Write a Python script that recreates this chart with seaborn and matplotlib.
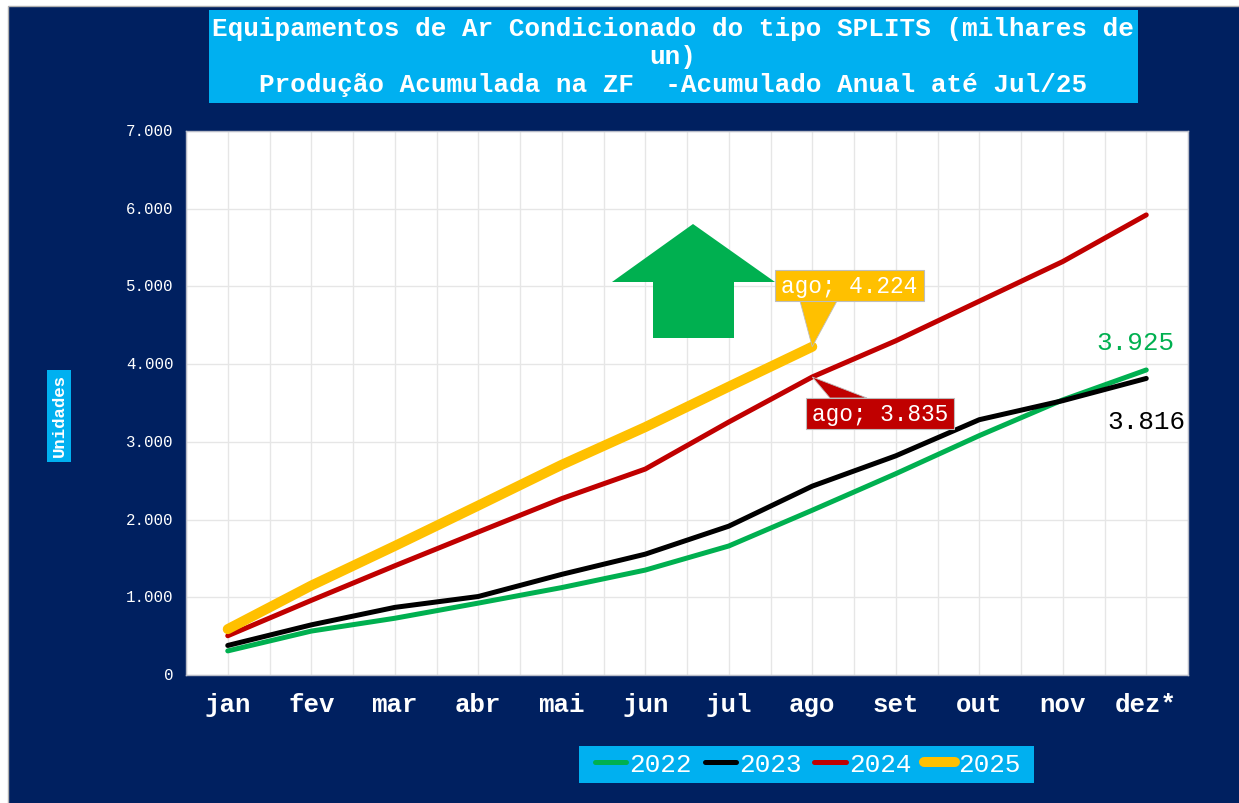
import numpy as np
import pandas as pd
import matplotlib
matplotlib.use("Agg")
import matplotlib.pyplot as plt
from matplotlib.patches import Polygon, Rectangle
from matplotlib.transforms import IdentityTransform, ScaledTranslation
import seaborn as sns

# === Data ===
MONTHS = ["jan", "fev", "mar", "abr", "mai", "jun", "jul", "ago", "set", "out", "nov", "dez*"]
V_2022 = [310, 565, 730, 925, 1125, 1350, 1660, 2120, 2590, 3080, 3540, 3925]
V_2023 = [380, 645, 870, 1010, 1295, 1555, 1915, 2430, 2820, 3285, 3530, 3816]
V_2024 = [505, 960, 1405, 1840, 2270, 2650, 3255, 3835, 4300, 4810, 5320, 5920]
V_2025 = [590, 1150, 1660, 2180, 2705, 3190, 3710, 4224, None, None, None, None]
YEARS = ["2022", "2023", "2024", "2025"]
Y_TICKS = [0, 1000, 2000, 3000, 4000, 5000, 6000, 7000]
Y_LABELS = ["0", "1.000", "2.000", "3.000", "4.000", "5.000", "6.000", "7.000"]

TITLE = ("Equipamentos de Ar Condicionado do tipo SPLITS (milhares de\nun)\n"
         "Produção Acumulada na ZF  -Acumulado Anual até Jul/25")

# === Style ===
W, H = 1239, 804
NAVY = "#002060"
CYAN = "#00B0F0"
GREEN = "#00B050"
RED = "#C00000"
GOLD = "#FFC000"
COLORS = {"2022": GREEN, "2023": "#000000", "2024": RED, "2025": GOLD}
WIDTHS = {"2022": 3.6, "2023": 3.6, "2024": 3.6, "2025": 7.2}

sns.set_theme(style="whitegrid")
plt.rcParams["font.family"] = ["Liberation Mono", "DejaVu Sans"]

df = pd.DataFrame({"mes": MONTHS, "2022": V_2022, "2023": V_2023, "2024": V_2024, "2025": V_2025})
long_df = df.melt(id_vars="mes", var_name="ano", value_name="valor").dropna()

fig = plt.figure(figsize=(W / 100, H / 100), dpi=100, facecolor="white")


def px_rect(x0, y0, x1, y1, **kw):
    # rectangle given in picture pixels, y going down
    fig.add_artist(Rectangle((x0 / W, 1 - y1 / H), (x1 - x0) / W, (y1 - y0) / H,
                             transform=fig.transFigure, **kw))


px_rect(8, 7, W + 5, H + 5, facecolor=NAVY, edgecolor="#B0B0B0", linewidth=1, zorder=-5)
px_rect(209, 11, 1138, 104, facecolor=CYAN, edgecolor="none", zorder=1)
px_rect(47, 371, 71, 463, facecolor=CYAN, edgecolor="none", zorder=1)
px_rect(579, 747, 1034, 784, facecolor=CYAN, edgecolor="none", zorder=1)

ax = fig.add_axes([186 / W, 1 - 676 / H, (1188 - 186) / W, (676 - 132) / H])
ax.set_facecolor("white")

for year in YEARS:
    sns.lineplot(data=long_df[long_df["ano"] == year], x="mes", y="valor", ax=ax,
                 color=COLORS[year], linewidth=WIDTHS[year], label=year,
                 solid_capstyle="round", sort=False, errorbar=None, zorder=3)

ax.set_xlim(-0.5, 11.5)
ax.set_ylim(0, 7000)
ax.set_xticks(range(len(MONTHS)))
ax.set_xticklabels(MONTHS, fontsize=18.5, color="white", fontweight="bold")
ax.set_xticks(np.arange(-0.5, 12, 0.5), minor=True)
ax.set_yticks(Y_TICKS)
ax.set_yticklabels(Y_LABELS, fontsize=11.3, color="white")
ax.set_xlabel("")
ax.set_ylabel("")
ax.grid(True, which="both", color="#E6E6E6", linewidth=1)
ax.set_axisbelow(True)
ax.tick_params(axis="x", which="both", length=0, pad=12)
ax.tick_params(axis="y", length=0, pad=9)
nudge = ScaledTranslation(0, 2 / 100, fig.dpi_scale_trans)
for lab in ax.get_yticklabels():
    lab.set_transform(lab.get_transform() + nudge)
for s in ax.spines.values():
    s.set_color("#B8BCC8")
    s.set_linewidth(1)

# === Texts ===
fig.text(673 / W, 1 - 57 / H, TITLE, ha="center", va="center", fontsize=18.7,
         color="white", linespacing=1.23, fontweight="bold", zorder=2)
fig.text(59 / W, 1 - 415.5 / H, "Unidades", rotation=90, ha="center", va="center",
         fontsize=12.5, color="white", fontweight="bold", zorder=2)

ax.annotate("3.925", xy=(11, V_2022[11]), xytext=(-11, 28), textcoords="offset pixels",
            ha="center", va="center", fontsize=18.7, color=GREEN)
ax.annotate("3.816", xy=(11, V_2023[11]), xytext=(0, -43), textcoords="offset pixels",
            ha="center", va="center", fontsize=18.7, color="black")


# === Callouts ===
def callout(value, text, color, box, base):
    tip = ax.transData.transform((7, value))
    x0, y0, x1, y1 = box
    pts = [(base[0], H - base[2]), (base[1], H - base[2]), tuple(tip)]
    fig.add_artist(Polygon(pts, closed=True, transform=IdentityTransform(),
                           facecolor=color, edgecolor="#BDBDBD", linewidth=0.6, zorder=5))
    px_rect(x0, y0, x1, y1, facecolor=color, edgecolor="#BDBDBD", linewidth=0.8, zorder=6)
    fig.text((x0 + x1) / 2 / W, 1 - (y0 + y1) / 2 / H, text, ha="center", va="center",
             fontsize=16.4, color="white", zorder=7)


callout(V_2025[7], "ago; 4.224", GOLD, (775, 271, 924, 302), (800, 837, 302))
callout(V_2024[7], "ago; 3.835", RED, (806, 399, 954, 430), (830, 867, 399))

# === Big arrow ===
arrow = [(693, 225), (612, 283), (653, 283), (653, 339), (734, 339), (734, 283), (775, 283)]
fig.add_artist(Polygon([(x / W, 1 - y / H) for x, y in arrow], closed=True,
                       transform=fig.transFigure, facecolor=GREEN, edgecolor="none", zorder=4))

# === Legend ===
handles, labels = ax.get_legend_handles_labels()
fig.legend(handles, labels, ncol=4, loc="center",
           bbox_to_anchor=(808 / W, 1 - 765.5 / H), fontsize=18.7,
           frameon=False, handlelength=1.2, handletextpad=0.12, columnspacing=0.5,
           borderpad=0.2, labelcolor="white")
ax.get_legend().remove()

fig.savefig("out.png", dpi=100, facecolor=fig.get_facecolor())
